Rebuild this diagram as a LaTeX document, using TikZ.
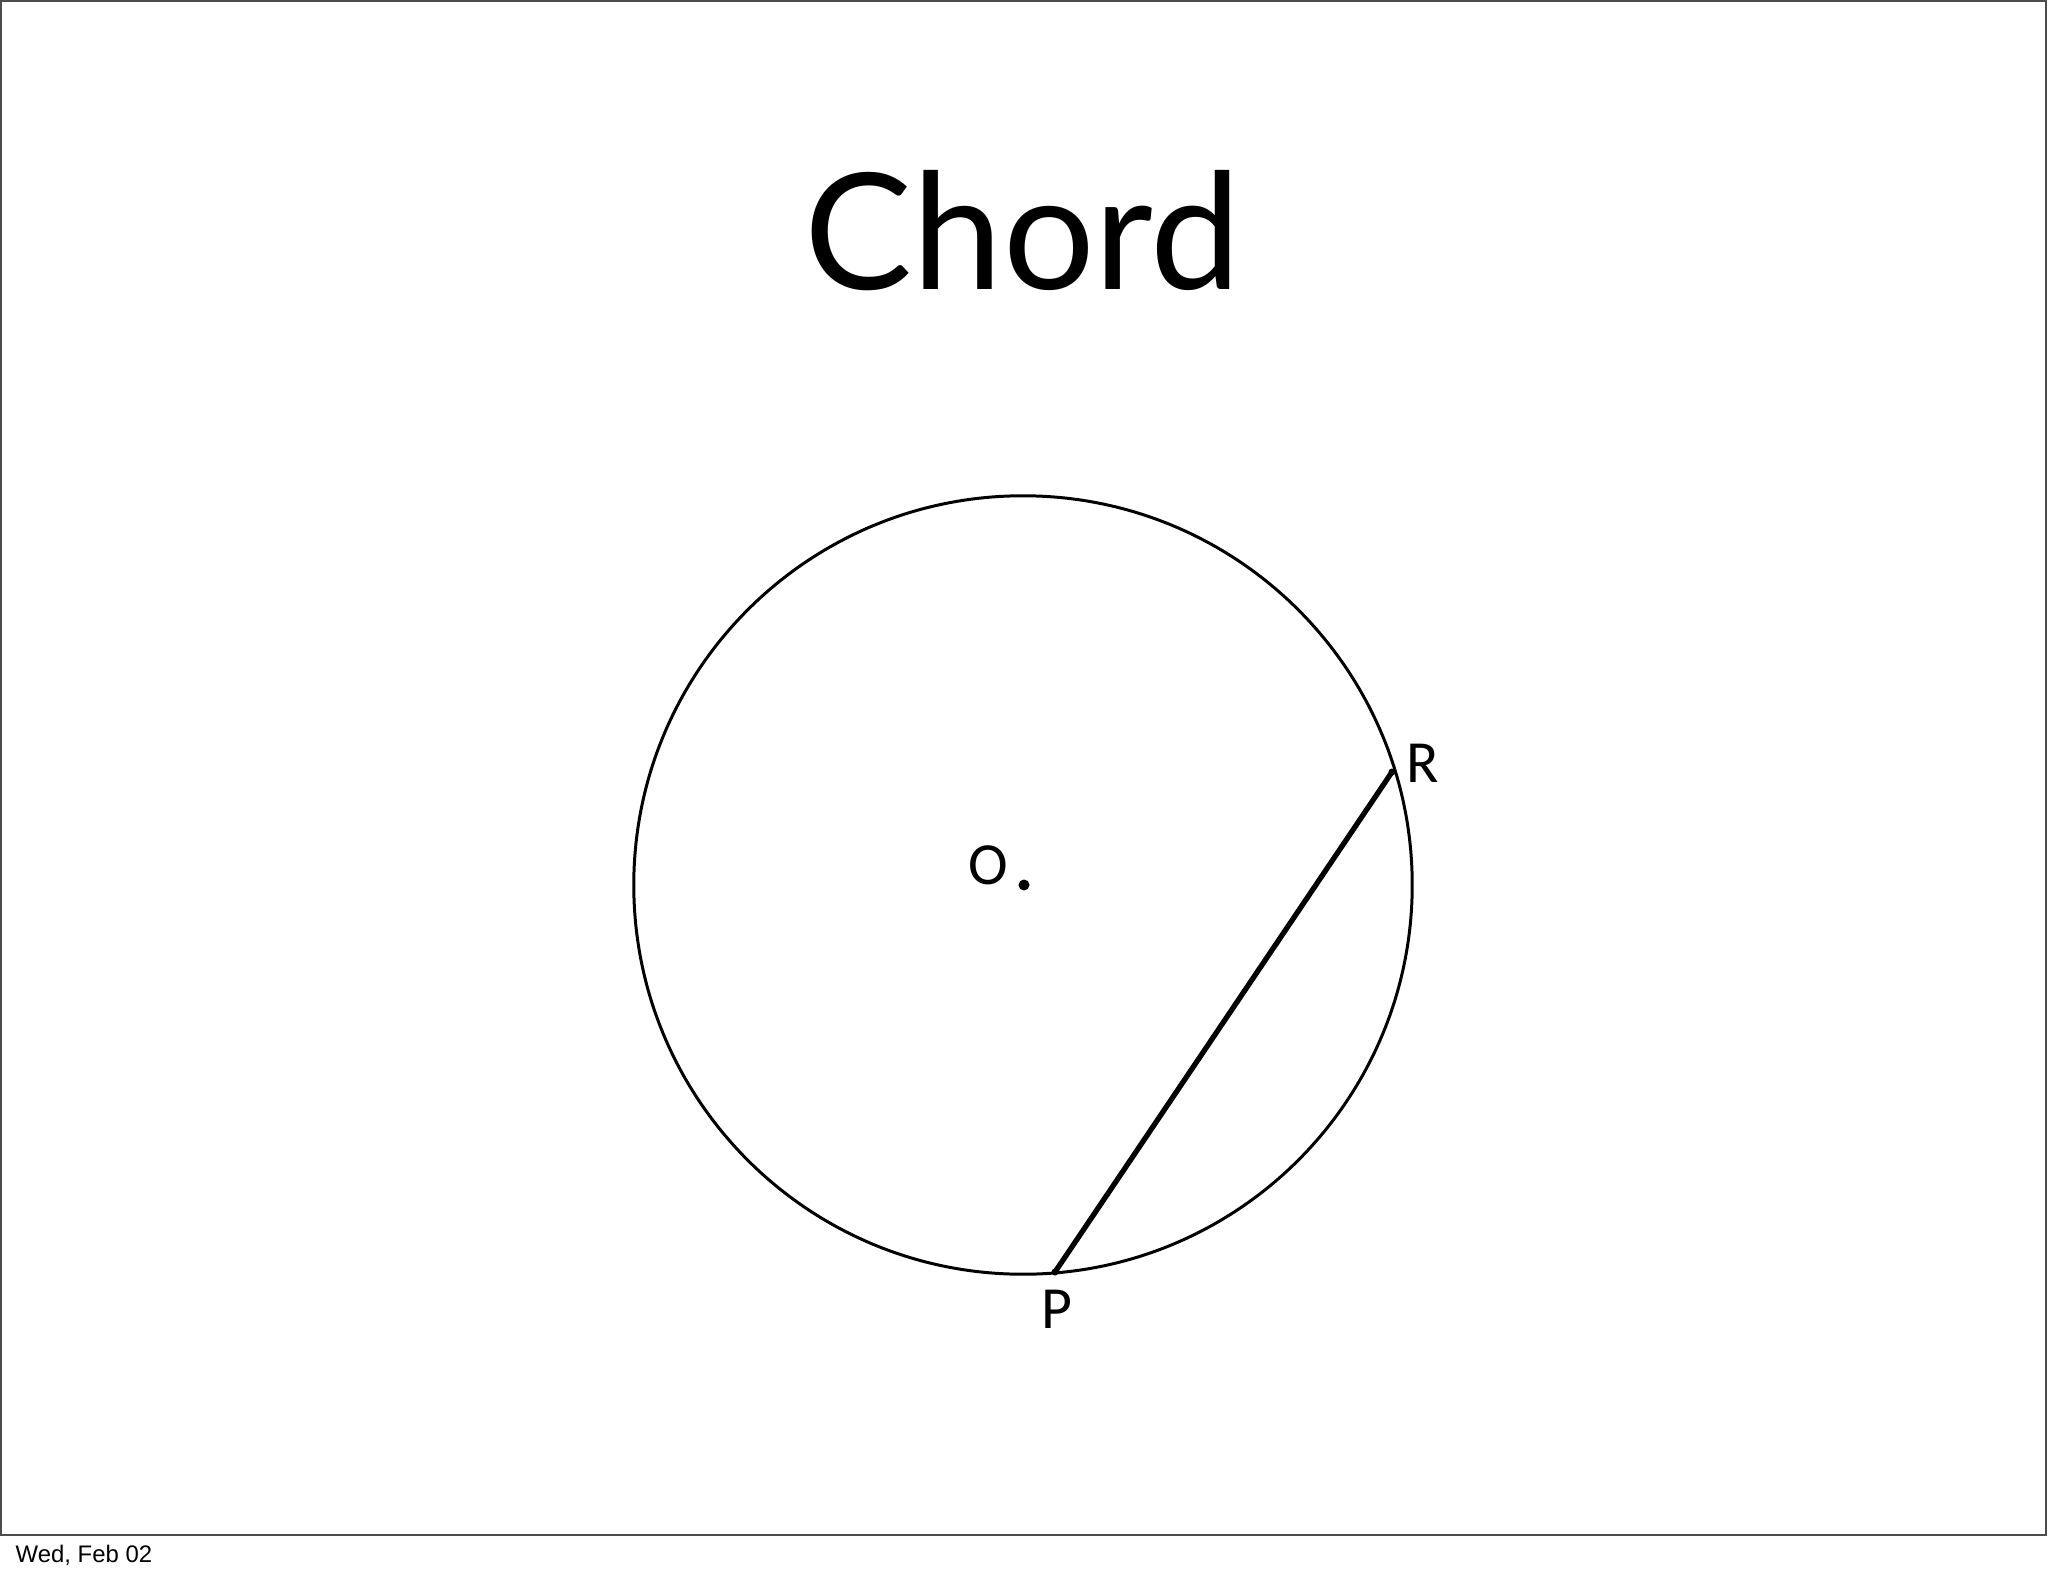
\documentclass[tikz,border=0pt]{standalone}
\usepackage{fontspec}
\setmainfont{Carlito}
\newfontfamily\titlefont{Lato}
\newfontfamily\footfont{Liberation Sans}
\usetikzlibrary{positioning}
\tikzstyle{lbl} = [inner sep=0pt, anchor=base, font=\fontsize{17}{20}\selectfont]
\tikzstyle{dot} = [circle, fill=black, inner sep=0pt, minimum size=0.07cm]
\tikzstyle{bigdot} = [circle, fill=black, inner sep=0pt, minimum size=0.11cm]
\tikzstyle{chord} = [line width=1.5pt]

\begin{document}
\begin{tikzpicture}[x=0.01cm, y=-0.01cm]

\useasboundingbox (0,0) rectangle (2048,1576);
\fill[white] (0,0) rectangle (2048,1576);

% slide frame
\draw[black!70, line width=0.8pt] (1,1) rectangle (2046,1535);

\node (title) [inner sep=0pt, anchor=base, font=\titlefont\fontsize{46}{50}\selectfont] at (1023,290) {Chord};
\node (date) [inner sep=0pt, anchor=base west, font=\footfont\fontsize{6.8}{8}\selectfont] at (15,1562) {Wed, Feb 02};

\coordinate (o) at (1023,885);
\draw[line width=0.85pt] (o) circle (3.89cm);

\node (odot) [bigdot] at (1024,885) {};
\node (pdot) [dot] at (1055,1272) {};
\node (rdot) [dot] at (1392,772) {};

\node (ol) [lbl] at (988,884) {O};
\node (pl) [lbl] at (1057,1328) {P};
\node (rl) [lbl] at (1423,782) {R};

\draw [chord] (pdot.center) -- (rdot.center);

\end{tikzpicture}
\end{document}
